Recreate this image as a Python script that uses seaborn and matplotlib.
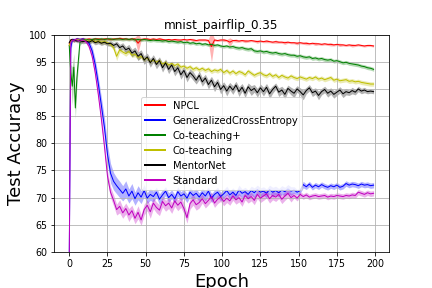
import numpy as np
import pandas as pd
import matplotlib
matplotlib.use('Agg')
import matplotlib.pyplot as plt
import seaborn as sns
from matplotlib.lines import Line2D

# epochs: every epoch at the start, then every second epoch
epochs = list(range(0, 6)) + list(range(7, 200, 2))

methods = ['NPCL', 'GeneralizedCrossEntropy', 'Co-teaching+', 'Co-teaching', 'MentorNet', 'Standard']
colors = ['r', 'b', 'g', 'y', 'k', 'm']

npcl = [98.3, 99.0, 99.1, 99.0, 99.1, 99.2,
        99.1, 99.2, 99.1, 99.2, 99.1, 99.2, 99.2, 99.1, 99.2, 99.2,
        99.1, 99.2, 99.2, 99.3, 99.2, 99.2, 99.1, 99.2, 99.2, 98.4,
        99.1, 99.2, 99.2, 99.1, 99.2, 99.1, 99.2, 99.1, 99.0, 99.1,
        99.0, 99.1, 99.0, 99.0, 99.1, 99.0, 99.1, 99.0, 98.9, 99.0,
        99.0, 99.0, 98.9, 97.8, 99.0, 98.9, 99.0, 99.0, 98.9, 98.6,
        98.9, 98.9, 98.8, 98.9, 98.8, 98.8, 98.9, 98.8, 98.7, 98.8,
        98.7, 98.8, 98.7, 98.6, 98.7, 98.6, 98.6, 98.5, 98.6, 98.5,
        98.5, 98.4, 98.5, 98.4, 98.4, 98.3, 98.4, 98.3, 98.3, 98.2,
        98.3, 98.2, 98.2, 98.1, 98.2, 98.1, 98.1, 98.0, 98.1, 98.0,
        98.0, 98.1, 98.0, 97.9, 98.0, 98.0, 97.9]
npcl_sd = [0.5, 0.2, 0.2, 0.2, 0.2, 0.2,
           0.2, 0.2, 0.2, 0.2, 0.2, 0.2, 0.2, 0.2, 0.2, 0.2,
           0.2, 0.2, 0.2, 0.3, 0.2, 0.2, 0.2, 0.2, 0.3, 1.7,
           0.2, 0.2, 0.2, 0.2, 0.2, 0.2, 0.3, 0.2, 0.2, 0.2,
           0.2, 0.2, 0.3, 0.2, 0.2, 0.2, 0.2, 0.3, 0.2, 0.2,
           0.2, 0.2, 0.3, 2.9, 0.2, 0.2, 0.2, 0.3, 0.2, 0.8,
           0.2, 0.3, 0.2, 0.2, 0.3, 0.2, 0.2, 0.2, 0.3, 0.2,
           0.2, 0.3, 0.2, 0.2, 0.3, 0.2, 0.2, 0.3, 0.2, 0.2,
           0.2, 0.3, 0.2, 0.2, 0.3, 0.2, 0.2, 0.3, 0.2, 0.2,
           0.2, 0.2, 0.3, 0.2, 0.2, 0.3, 0.2, 0.2, 0.2, 0.3,
           0.2, 0.2, 0.2, 0.2, 0.2, 0.2, 0.2]

gce = [58.0, 97.5, 99.0, 99.1, 99.0, 99.2,
       99.1, 99.2, 99.0, 98.4, 97.0, 94.5, 91.0, 87.0, 83.0, 78.0,
       74.5, 73.0, 72.2, 71.5, 70.8, 71.6, 70.3, 71.2, 69.8, 70.9,
       70.1, 71.3, 69.9, 70.6, 70.2, 71.0, 69.7, 70.5, 71.2, 70.0,
       70.6, 69.8, 71.1, 70.3, 70.7, 69.9, 71.0, 70.4, 70.8, 70.1,
       70.9, 70.3, 71.2, 69.9, 70.6, 71.0, 70.2, 70.7, 71.3, 70.5,
       71.0, 70.4, 71.4, 70.8, 71.1, 70.6, 71.3, 70.9, 71.5, 71.0,
       71.2, 70.8, 71.5, 71.0, 71.3, 70.9, 71.4, 71.1, 71.6, 71.2,
       71.4, 71.0, 71.3, 72.4, 72.0, 72.5, 71.9, 72.3, 72.0, 72.4,
       72.1, 71.9, 72.2, 72.0, 72.3, 71.9, 72.1, 72.6, 72.3, 72.5,
       72.4, 72.2, 72.5, 72.3, 72.4, 72.2, 72.3]
gce_sd = [0.3, 1.0, 0.3, 0.3, 0.3, 0.3,
          0.3, 0.3, 0.3, 0.5, 0.8, 1.0, 1.2, 1.5, 1.8, 1.8,
          1.8, 1.6, 1.5, 1.5, 1.4, 1.5, 1.3, 1.4, 1.2, 1.3,
          1.2, 1.1, 1.0, 1.1, 1.0, 0.9, 1.0, 0.9, 0.8, 0.9,
          0.8, 0.8, 0.9, 0.8, 0.8, 0.8, 0.9, 0.8, 0.8, 0.8,
          0.8, 0.9, 0.8, 0.8, 0.8, 0.9, 0.8, 0.8, 0.8, 0.8,
          0.8, 0.8, 0.9, 0.8, 0.8, 0.8, 0.8, 0.9, 0.8, 0.8,
          0.8, 0.8, 0.8, 0.9, 0.8, 0.8, 0.8, 0.8, 0.8, 0.8,
          0.6, 0.5, 0.5, 0.6, 0.5, 0.5, 0.5, 0.5, 0.5, 0.5,
          0.5, 0.5, 0.5, 0.5, 0.5, 0.5, 0.5, 0.5, 0.5, 0.5,
          0.5, 0.5, 0.5, 0.5, 0.5, 0.5, 0.5]

coplus = [98.0, 93.0, 90.5, 94.0, 86.5, 92.0,
          98.6, 99.0, 99.1, 99.0, 99.1, 99.2, 99.1, 99.2, 99.1, 99.2,
          99.2, 99.1, 99.2, 99.2, 99.1, 99.2, 99.1, 99.2, 99.0, 99.1,
          99.0, 99.1, 99.0, 98.9, 99.0, 98.9, 98.9, 98.8, 98.9, 98.7,
          98.8, 98.7, 98.6, 98.7, 98.5, 98.6, 98.4, 98.5, 98.3, 98.4,
          98.2, 98.3, 98.1, 98.2, 98.0, 98.1, 97.9, 97.8, 97.9, 97.7,
          97.8, 97.6, 97.5, 97.6, 97.4, 97.3, 97.4, 97.0, 96.9, 97.0,
          96.8, 96.9, 96.7, 96.6, 96.7, 96.5, 96.4, 96.5, 96.3, 96.2,
          96.2, 96.0, 96.1, 95.9, 95.8, 95.9, 95.6, 95.7, 95.5, 95.6,
          95.4, 95.3, 95.4, 95.1, 95.2, 95.0, 94.8, 94.9, 94.7, 94.6,
          94.5, 94.4, 94.2, 94.1, 93.9, 93.8, 93.6]
coplus_sd = [0.5, 1.5, 3.5, 2.5, 2.0, 1.5,
             0.6, 0.3, 0.3, 0.3, 0.3, 0.3, 0.3, 0.3, 0.3, 0.3,
             0.3, 0.3, 0.3, 0.3, 0.3, 0.3, 0.3, 0.3, 0.4, 0.3,
             0.3, 0.3, 0.3, 0.3, 0.3, 0.3, 0.3, 0.3, 0.3, 0.3,
             0.3, 0.3, 0.3, 0.3, 0.3, 0.3, 0.3, 0.3, 0.3, 0.3,
             0.3, 0.3, 0.3, 0.3, 0.3, 0.3, 0.3, 0.3, 0.3, 0.3,
             0.35, 0.35, 0.35, 0.35, 0.35, 0.35, 0.35, 0.35, 0.35, 0.35,
             0.35, 0.35, 0.35, 0.35, 0.35, 0.35, 0.35, 0.35, 0.35, 0.35,
             0.35, 0.35, 0.35, 0.35, 0.35, 0.35, 0.35, 0.35, 0.35, 0.35,
             0.35, 0.35, 0.35, 0.35, 0.35, 0.35, 0.35, 0.35, 0.35, 0.35,
             0.35, 0.35, 0.35, 0.35, 0.35, 0.35, 0.35]

coteach = [98.0, 98.8, 99.0, 98.9, 99.0, 99.1,
           99.0, 98.9, 99.0, 98.8, 98.9, 98.7, 98.8, 98.6, 98.7, 98.5,
           98.2, 97.6, 96.0, 97.2, 96.8, 96.5, 96.9, 96.2, 96.4, 95.8,
           96.0, 95.4, 95.7, 95.0, 95.3, 94.9, 95.2, 94.6, 94.9, 94.4,
           94.7, 94.3, 94.6, 94.0, 94.2, 93.8, 94.1, 93.6, 93.9, 93.5,
           93.8, 93.4, 93.7, 93.2, 93.5, 93.3, 93.6, 93.0, 93.4, 92.9,
           93.3, 92.8, 93.2, 93.0, 92.6, 93.3, 92.9, 92.5, 92.8, 93.0,
           92.6, 92.4, 92.8, 92.3, 92.6, 92.1, 92.5, 92.2, 92.0, 92.4,
           92.1, 91.9, 92.2, 92.0, 91.8, 92.1, 91.9, 92.2, 91.8, 92.0,
           91.7, 91.9, 92.1, 91.6, 91.8, 91.5, 91.6, 91.7, 91.4, 91.5,
           91.3, 91.4, 91.2, 91.1, 91.0, 90.9, 90.9]
coteach_sd = [0.5, 0.3, 0.3, 0.3, 0.3, 0.3,
              0.3, 0.3, 0.3, 0.3, 0.3, 0.3, 0.3, 0.4, 0.4, 0.4,
              0.4, 0.5, 0.8, 0.5, 0.4, 0.5, 0.4, 0.4, 0.5, 0.4,
              0.4, 0.4, 0.4, 0.4, 0.4, 0.4, 0.4, 0.4, 0.4, 0.4,
              0.4, 0.4, 0.4, 0.4, 0.4, 0.4, 0.4, 0.4, 0.4, 0.4,
              0.4, 0.4, 0.4, 0.4, 0.4, 0.4, 0.4, 0.4, 0.4, 0.4,
              0.4, 0.4, 0.4, 0.4, 0.4, 0.4, 0.4, 0.4, 0.4, 0.4,
              0.4, 0.4, 0.4, 0.4, 0.4, 0.4, 0.4, 0.4, 0.4, 0.4,
              0.4, 0.4, 0.4, 0.4, 0.4, 0.4, 0.4, 0.4, 0.4, 0.4,
              0.4, 0.4, 0.4, 0.4, 0.4, 0.4, 0.4, 0.4, 0.4, 0.4,
              0.4, 0.4, 0.4, 0.4, 0.4, 0.4, 0.4]

mentor = [98.5, 99.0, 99.1, 98.9, 99.0, 98.8,
          98.9, 98.7, 98.8, 98.6, 98.9, 98.5, 98.7, 98.4, 98.6, 98.3,
          98.4, 98.0, 98.3, 97.6, 97.9, 97.2, 97.5, 96.6, 97.0, 96.0,
          96.5, 95.3, 95.9, 94.8, 95.6, 94.5, 95.2, 93.9, 94.8, 93.6,
          94.4, 93.2, 93.9, 92.6, 93.4, 92.1, 93.0, 92.4, 91.6, 92.5,
          91.3, 92.0, 90.8, 91.6, 90.4, 91.2, 89.9, 90.6, 89.6, 90.5,
          89.8, 90.7, 89.5, 90.3, 89.2, 90.4, 89.7, 90.1, 89.3, 90.2,
          89.5, 90.3, 89.1, 89.9, 90.5, 89.4, 89.8, 89.0, 90.1, 89.6,
          89.2, 90.0, 89.5, 88.9, 89.7, 90.2, 89.3, 89.6, 88.8, 89.5,
          89.9, 89.2, 89.6, 89.0, 89.4, 89.8, 89.1, 89.5, 89.3, 89.7,
          89.4, 90.0, 89.6, 89.8, 89.5, 89.6, 89.5]
mentor_sd = [0.4, 0.3, 0.3, 0.3, 0.3, 0.3,
             0.4, 0.4, 0.4, 0.4, 0.4, 0.4, 0.4, 0.4, 0.4, 0.4,
             0.5, 0.5, 0.5, 0.6, 0.6, 0.6, 0.7, 0.7, 0.7, 0.8,
             0.7, 0.8, 0.7, 0.8, 0.7, 0.8, 0.7, 0.8, 0.7, 0.8,
             0.7, 0.8, 0.7, 0.8, 0.7, 0.8, 0.7, 0.8, 0.7, 0.8,
             0.8, 0.7, 0.8, 0.7, 0.9, 0.7, 0.8, 0.7, 0.9, 0.7,
             0.8, 0.7, 0.9, 0.7, 0.8, 0.7, 0.9, 0.7, 0.8, 0.7,
             0.8, 0.7, 0.9, 0.7, 0.6, 0.8, 0.7, 0.9, 0.6, 0.7,
             0.8, 0.6, 0.7, 0.9, 0.6, 0.6, 0.7, 0.6, 0.8, 0.6,
             0.6, 0.7, 0.6, 0.7, 0.6, 0.6, 0.7, 0.6, 0.5, 0.6,
             0.5, 0.5, 0.5, 0.5, 0.4, 0.4, 0.4]

standard = [57.0, 98.5, 99.0, 98.9, 99.1, 99.0,
            98.8, 99.0, 98.7, 97.8, 96.0, 93.0, 89.0, 84.5, 79.5, 74.0,
            71.0, 69.5, 67.8, 68.4, 67.2, 68.0, 66.8, 67.6, 66.2, 67.3,
            65.9, 67.8, 68.6, 67.4, 69.0, 68.2, 67.7, 69.3, 68.5, 69.0,
            68.1, 69.4, 68.6, 69.2, 68.0, 66.3, 68.9, 69.6, 68.7, 69.1,
            69.8, 68.9, 69.5, 70.2, 69.0, 69.7, 70.1, 69.3, 69.9, 69.4,
            70.3, 69.6, 70.0, 69.2, 70.4, 69.8, 70.2, 69.5, 70.6, 69.9,
            70.3, 70.7, 69.8, 70.4, 70.1, 70.6, 69.7, 70.3, 70.8, 70.0,
            70.4, 69.9, 70.6, 70.2, 70.5, 70.1, 70.3, 70.4, 70.2, 70.3,
            70.4, 70.1, 70.3, 70.2, 70.4, 70.3, 70.2, 70.4, 70.3, 70.5,
            70.4, 71.0, 70.8, 70.6, 70.9, 70.7, 70.8]
standard_sd = [0.3, 0.5, 0.3, 0.3, 0.3, 0.3,
               0.3, 0.3, 0.3, 0.5, 0.8, 1.0, 1.0, 1.0, 1.0, 1.0,
               1.0, 1.0, 1.0, 1.2, 1.0, 1.0, 1.2, 1.0, 1.0, 1.2,
               1.0, 1.0, 1.0, 1.2, 1.0, 1.0, 1.0, 1.0, 1.0, 1.0,
               1.0, 1.0, 1.0, 1.0, 1.0, 1.0, 1.0, 1.0, 1.0, 1.0,
               0.8, 0.8, 0.8, 0.8, 0.8, 0.8, 0.8, 0.8, 0.8, 0.8,
               0.8, 0.8, 0.8, 0.8, 0.8, 0.8, 0.8, 0.8, 0.8, 0.8,
               0.8, 0.8, 0.8, 0.8, 0.8, 0.8, 0.8, 0.8, 0.8, 0.8,
               0.5, 0.5, 0.5, 0.5, 0.5, 0.5, 0.5, 0.5, 0.5, 0.5,
               0.5, 0.5, 0.5, 0.5, 0.5, 0.5, 0.5, 0.5, 0.5, 0.5,
               0.5, 0.5, 0.5, 0.5, 0.5, 0.5, 0.5]

means = [npcl, gce, coplus, coteach, mentor, standard]
sds = [npcl_sd, gce_sd, coplus_sd, coteach_sd, mentor_sd, standard_sd]

df = pd.concat([pd.DataFrame({'Epoch': epochs, 'acc': m, 'method': name})
                for name, m in zip(methods, means)], ignore_index=True)

fig, ax = plt.subplots(figsize=(6, 4), dpi=72)
fig.subplots_adjust(left=0.125, right=0.9, bottom=0.125, top=0.88)

for mu, sd, c in zip(means, sds, colors):
    mu = np.array(mu)
    sd = np.array(sd)
    ax.fill_between(epochs, mu - sd, mu + sd, color=c, alpha=0.3, linewidth=0)

sns.lineplot(data=df, x='Epoch', y='acc', hue='method', hue_order=methods,
             palette=colors, linewidth=1, ax=ax, legend=False)

ax.set_ylim(60, 100)
ax.set_yticks(range(60, 101, 5))
ax.set_xticks(range(0, 201, 25))
ax.tick_params(labelsize=9.5)
ax.grid(True)
ax.set_title('mnist_pairflip_0.35', fontsize=12)
ax.set_xlabel('Epoch', fontsize=18)
ax.set_ylabel('Test Accuracy', fontsize=18)

handles = [Line2D([0], [0], color=c, lw=2) for c in colors]
ax.legend(handles, methods, loc='center', fontsize=10)

fig.savefig('out.png', dpi=72)
